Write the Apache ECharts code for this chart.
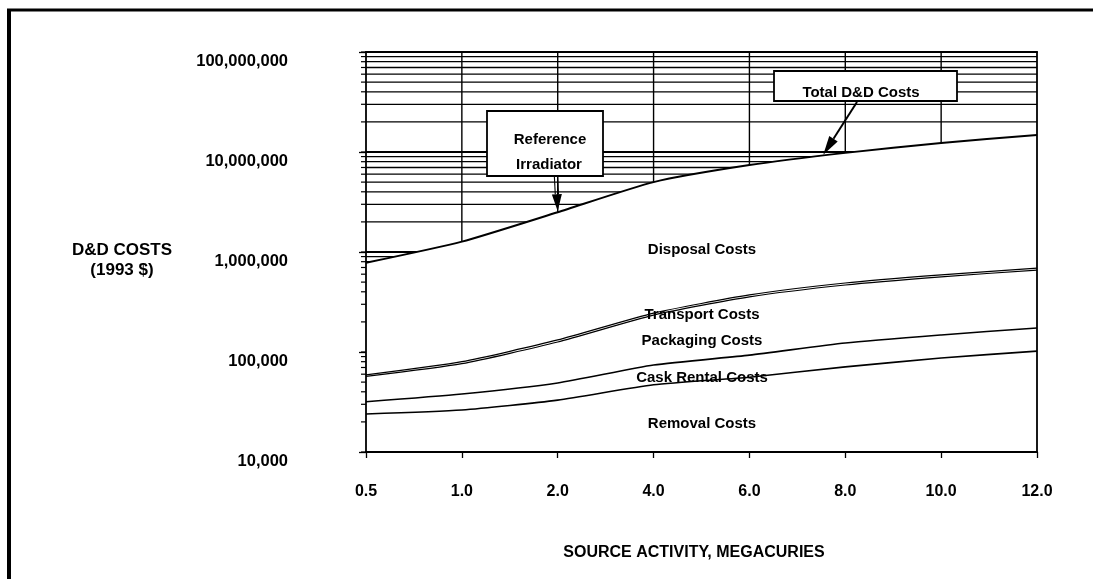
<!DOCTYPE html>
<html>
<head>
<meta charset="utf-8">
<title>D&amp;D Costs vs Source Activity</title>
<script src="https://cdn.jsdelivr.net/npm/echarts@6/dist/echarts.min.js"></script>
<style>
  html, body { margin: 0; padding: 0; background: #fff; }
  #chart { width: 1096px; height: 579px; }
</style>
</head>
<body>
<div id="chart"></div>
<script>
// Source activity (megacuries) along the x axis
const categories = ['0.5', '1.0', '2.0', '4.0', '6.0', '8.0', '10.0', '12.0'];

// Cumulative cost boundaries (1993 $), top of each cost band
const totalCosts     = [780000, 1270000, 2500000, 5000000, 7400000, 9800000, 12300000, 14800000];
const transportTop   = [59000, 80000, 132000, 245000, 372000, 490000, 590000, 690000];
const packagingTop   = [57000, 76500, 126000, 234000, 356000, 468000, 565000, 660000];
const caskRentalTop  = [31800, 38000, 49000, 74000, 93000, 123000, 148000, 174000];
const removalTop     = [24000, 26300, 33000, 47000, 56000, 71000, 87000, 102000];

// Decades of the log axis and the in-decade multipliers used for grid rules
const decades = [10000, 100000, 1000000, 10000000, 100000000];
const decadeSteps = [1, 2, 3, 4, 5, 6, 7, 8, 9];

// Band names written inside the chart
const bandLabels = [
  { text: 'Disposal Costs', y: 250 },
  { text: 'Transport Costs', y: 315 },
  { text: 'Packaging Costs', y: 341 },
  { text: 'Cask Rental Costs', y: 378 },
  { text: 'Removal Costs', y: 424 }
];

const FONT = '"Liberation Sans", Arial, Helvetica, sans-serif';
const BLACK = '#000';

// Horizontal grid rules: every 1..9 step of each decade, plus the top decade
const gridRuleData = [];
for (let d = 0; d < decades.length - 1; d++) {
  for (const s of decadeSteps) {
    gridRuleData.push([0, decades[d] * s, s === 1 ? 1 : 0]);
  }
}
gridRuleData.push([0, decades[decades.length - 1], 1]);

// Vertical grid rules at the inner categories
const verticalRuleData = categories.slice(1, -1).map((c, i) => [i + 1, decades[2]]);

function withCommas(v) {
  return String(Math.round(v)).replace(/\B(?=(\d{3})+(?!\d))/g, ',');
}

const chart = echarts.init(document.getElementById('chart'), null, { renderer: 'canvas' });

const lineSeries = (name, data, z, width) => ({
  name,
  type: 'line',
  data,
  z,
  smooth: 0.2,
  symbol: 'none',
  silent: true,
  lineStyle: { color: BLACK, width }
});

chart.setOption({
  animation: false,
  backgroundColor: '#fff',
  grid: { left: 366, right: 59, top: 52, bottom: 127 },
  xAxis: [
    {
      type: 'category',
      data: categories,
      boundaryGap: false,
      position: 'bottom',
      z: 5,
      axisLine: { show: true, lineStyle: { color: BLACK, width: 1.8 } },
      axisTick: { show: true, length: 6, lineStyle: { color: BLACK, width: 1.3 } },
      axisLabel: {
        margin: 32,
        color: BLACK,
        fontFamily: FONT,
        fontSize: 16,
        fontWeight: 'bold'
      },
      splitLine: { show: false }
    },
    {
      type: 'category',
      data: categories,
      boundaryGap: false,
      position: 'top',
      z: 5,
      axisLine: { show: true, lineStyle: { color: BLACK, width: 1.8 } },
      axisTick: { show: false },
      axisLabel: { show: false },
      splitLine: { show: false }
    }
  ],
  yAxis: [
    {
      type: 'log',
      logBase: 10,
      min: decades[0],
      max: decades[decades.length - 1],
      z: 5,
      axisLine: { show: true, lineStyle: { color: BLACK, width: 1.8 } },
      axisTick: { show: true, length: 7, lineStyle: { color: BLACK, width: 1.3 } },
      axisLabel: {
        margin: 78,
        color: BLACK,
        fontFamily: FONT,
        fontSize: 16.5,
        fontWeight: 'bold',
        verticalAlign: 'top',
        padding: [1, 0, 0, 0],
        formatter: withCommas
      },
      splitLine: { show: false }
    },
    {
      type: 'log',
      logBase: 10,
      min: decades[0],
      max: decades[decades.length - 1],
      position: 'right',
      z: 5,
      axisLine: { show: true, lineStyle: { color: BLACK, width: 1.8 } },
      axisTick: { show: false },
      axisLabel: { show: false },
      splitLine: { show: false }
    }
  ],
  series: [
    {
      name: 'grid rules',
      type: 'custom',
      z: 1,
      silent: true,
      clip: false,
      data: gridRuleData,
      encode: { x: 0, y: 1 },
      renderItem: (params, api) => {
        const cs = params.coordSys;
        const y = api.coord([0, api.value(1)])[1];
        const major = api.value(2) === 1;
        return {
          type: 'group',
          children: [
            {
              type: 'line',
              shape: { x1: cs.x, y1: y, x2: cs.x + cs.width, y2: y },
              style: { stroke: BLACK, lineWidth: major ? 1.8 : 1.3 }
            },
            {
              type: 'line',
              shape: { x1: cs.x - 5, y1: y, x2: cs.x, y2: y },
              style: { stroke: BLACK, lineWidth: 1.2 }
            }
          ]
        };
      }
    },
    {
      name: 'category rules',
      type: 'custom',
      z: 1,
      silent: true,
      data: verticalRuleData,
      encode: { x: 0, y: 1 },
      renderItem: (params, api) => {
        const cs = params.coordSys;
        const x = api.coord([api.value(0), api.value(1)])[0];
        return {
          type: 'line',
          shape: { x1: x, y1: cs.y, x2: x, y2: cs.y + cs.height },
          style: { stroke: BLACK, lineWidth: 1.4 }
        };
      }
    },
    Object.assign(lineSeries('Total D&D Costs', totalCosts, 2, 2), {
      areaStyle: { color: '#fff', opacity: 1 }
    }),
    lineSeries('Transport Costs', transportTop, 3, 1.2),
    lineSeries('Packaging Costs', packagingTop, 3, 1.2),
    lineSeries('Cask Rental Costs', caskRentalTop, 3, 1.6),
    lineSeries('Removal Costs', removalTop, 3, 1.6)
  ]
});

// Annotations are placed after layout so arrows can point at the plotted curve
function px(catIndex, value) {
  return chart.convertToPixel({ xAxisIndex: 0, yAxisIndex: 0 }, [categories[catIndex], value]);
}

function arrowShapes(x1, y1, x2, y2, headLen, headW, shaftWidth, doubleShaft) {
  const ang = Math.atan2(y2 - y1, x2 - x1);
  const c = Math.cos(ang), s = Math.sin(ang);
  const bx = x2 - headLen * c, by = y2 - headLen * s;
  const pxv = -s * headW / 2, pyv = c * headW / 2;
  const out = [];
  if (doubleShaft) {
    const o = 1.6;
    out.push({ type: 'line', z: 20, silent: true,
      shape: { x1: x1 - s * o, y1: y1 + c * o, x2: bx - s * o, y2: by + c * o },
      style: { stroke: BLACK, lineWidth: 1.1 } });
    out.push({ type: 'line', z: 20, silent: true,
      shape: { x1: x1 + s * o, y1: y1 - c * o, x2: bx + s * o, y2: by - c * o },
      style: { stroke: BLACK, lineWidth: 1.1 } });
  } else {
    out.push({ type: 'line', z: 20, silent: true,
      shape: { x1, y1, x2: bx, y2: by },
      style: { stroke: BLACK, lineWidth: shaftWidth } });
  }
  out.push({ type: 'polygon', z: 20, silent: true,
    shape: { points: [[x2, y2], [bx + pxv, by + pyv], [bx - pxv, by - pyv]] },
    style: { fill: BLACK } });
  return out;
}

function textEl(text, x, y, size, weight) {
  return {
    type: 'text',
    z: 30,
    silent: true,
    style: {
      text,
      x, y,
      fill: BLACK,
      font: (weight || 'bold') + ' ' + size + 'px ' + FONT,
      align: 'center',
      verticalAlign: 'middle',
      textAlign: 'center',
      textVerticalAlign: 'middle'
    }
  };
}

function boxEl(x, y, w, h) {
  return {
    type: 'rect',
    z: 25,
    silent: true,
    shape: { x, y, width: w, height: h },
    style: { fill: '#fff', stroke: BLACK, lineWidth: 1.8 }
  };
}

const refTip = px(2, totalCosts[2]);
const tA = px(4, totalCosts[4]);
const tB = px(5, totalCosts[5]);
const frac = 0.77;
const totTip = [tA[0] + (tB[0] - tA[0]) * frac, tA[1] + (tB[1] - tA[1]) * frac];

const graphics = [];

// Page frame
graphics.push({ type: 'line', z: 40, silent: true,
  shape: { x1: 9, y1: 9, x2: 9, y2: 579 }, style: { stroke: BLACK, lineWidth: 4 } });
graphics.push({ type: 'line', z: 40, silent: true,
  shape: { x1: 7, y1: 10, x2: 1093, y2: 10 }, style: { stroke: BLACK, lineWidth: 3 } });

// Reference irradiator callout
graphics.push(boxEl(487, 111, 116, 65));
graphics.push(textEl('Reference', 550, 140, 15));
graphics.push(textEl('Irradiator', 549, 165, 15));
graphics.push(...arrowShapes(556, 177, refTip[0], refTip[1] - 1, 17, 10, 1.5, true));

// Total cost callout
graphics.push(boxEl(774, 71, 183, 30));
graphics.push(textEl('Total D&D Costs', 861, 93, 15));
graphics.push(...arrowShapes(857, 102, totTip[0], totTip[1] - 1, 19, 10, 2, false));

// Band names
for (const b of bandLabels) {
  graphics.push(textEl(b.text, 702, b.y, 15));
}

// Axis titles
graphics.push(textEl('D&D COSTS', 122, 250, 17));
graphics.push(textEl('(1993 $)', 122, 270, 17));
graphics.push(textEl('SOURCE ACTIVITY, MEGACURIES', 694, 553, 16));

chart.setOption({ graphic: { elements: graphics } });
</script>
</body>
</html>
